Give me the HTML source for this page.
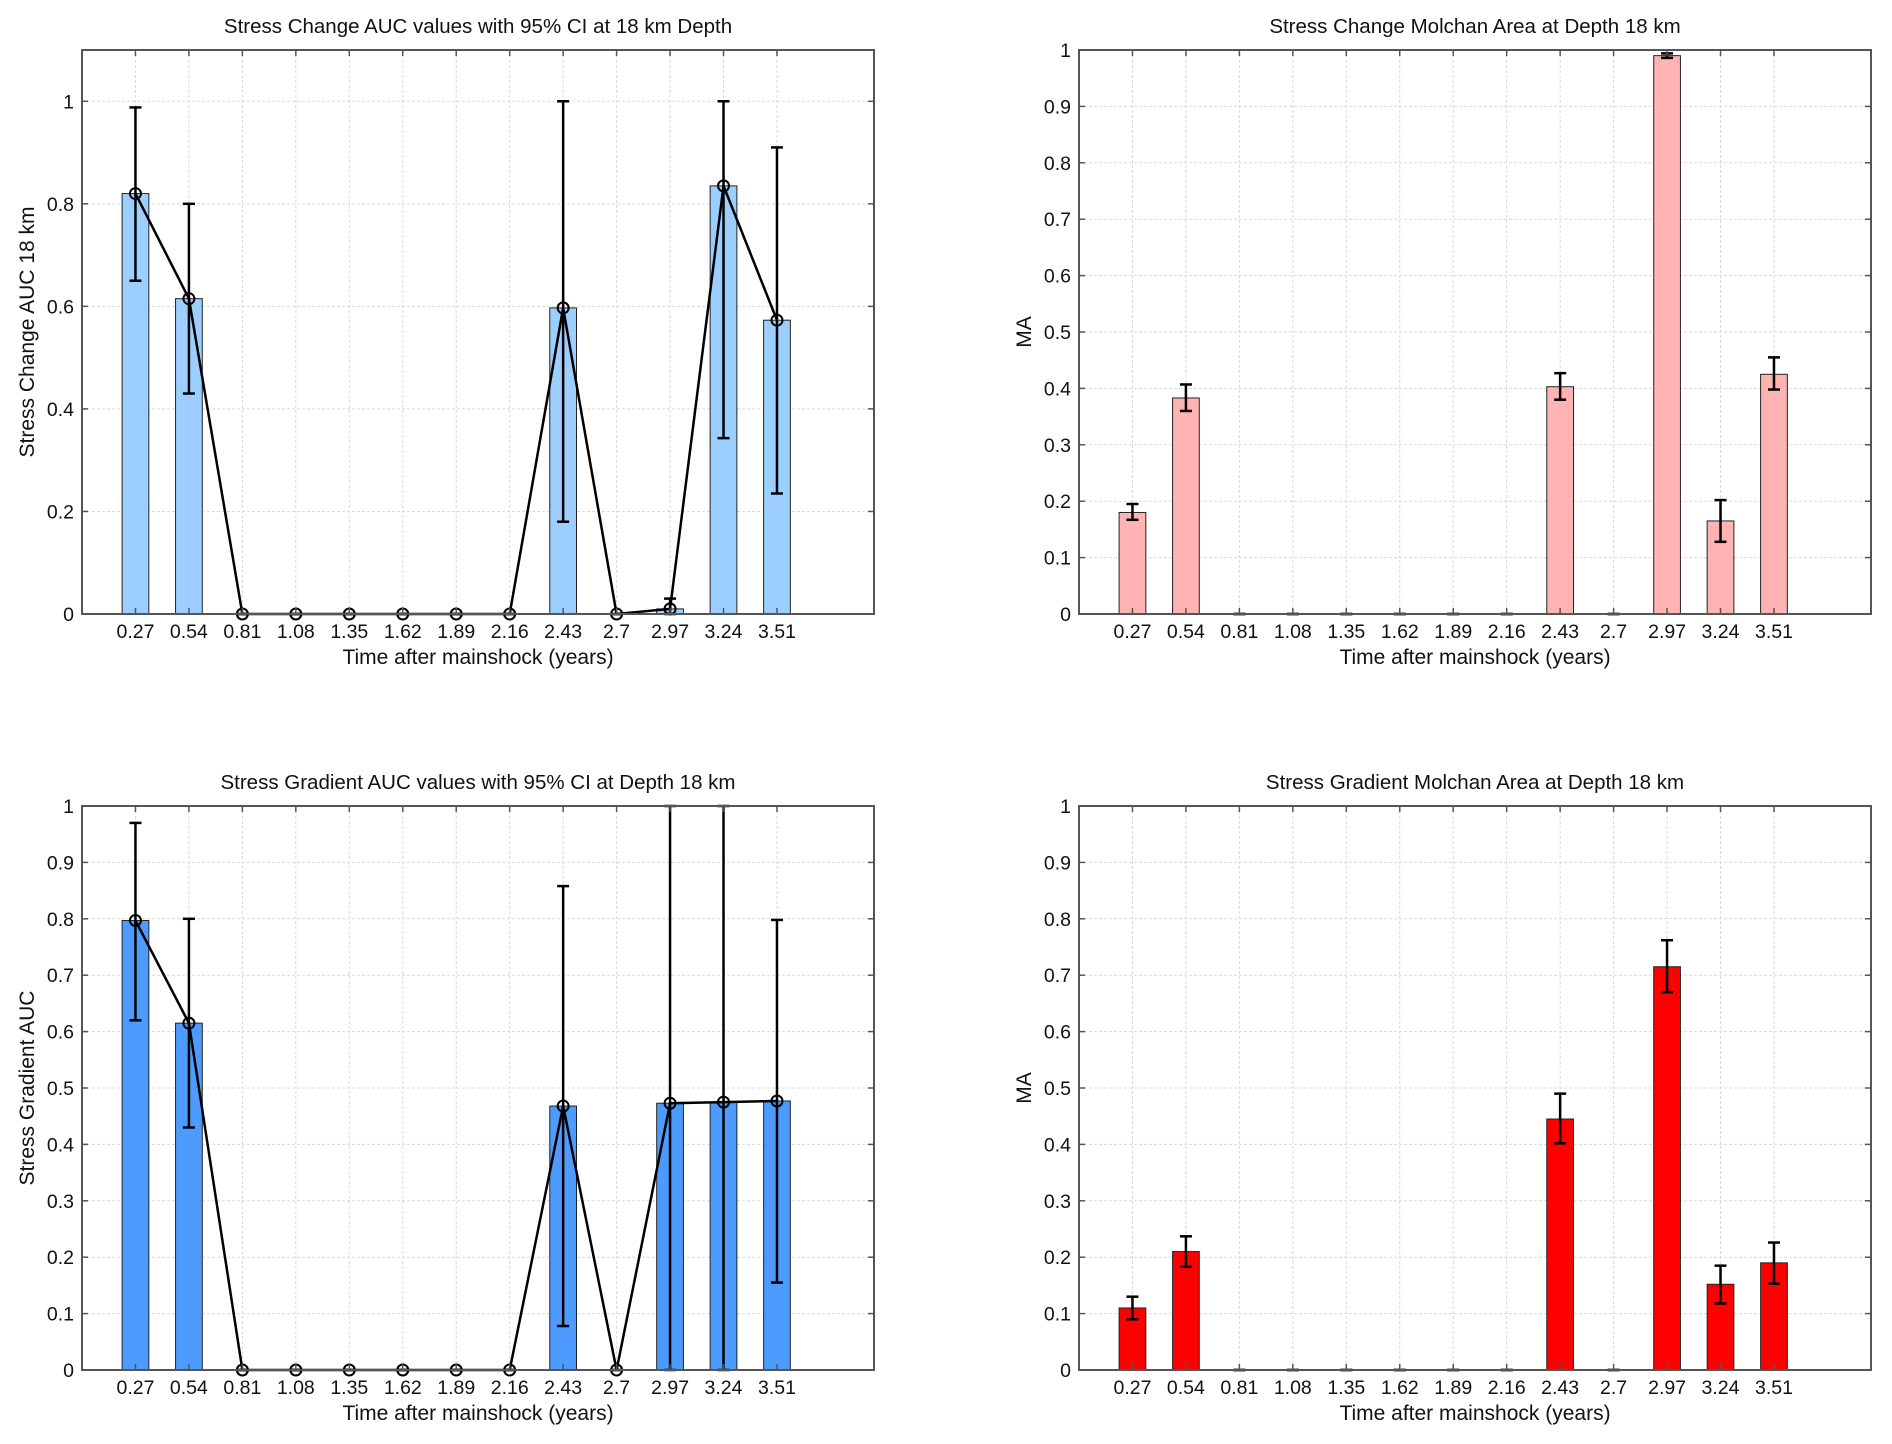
<!DOCTYPE html>
<html><head><meta charset="utf-8"><style>
html,body{margin:0;padding:0;background:#fff;}
svg{display:block;font-family:"Liberation Sans",Arial,sans-serif;}
.t{font-size:19.5px;fill:#111;}
.tt{font-size:20.5px;fill:#111;}
.xl{font-size:21px;fill:#111;}
</style></head><body>
<svg id="s" width="1892" height="1444" viewBox="0 0 1892 1444" xmlns="http://www.w3.org/2000/svg">
<rect width="1892" height="1444" fill="#fff"/>
<g id="c1" transform="translate(82,50)">
<text class="tt" x="396" y="-17" text-anchor="middle">Stress Change AUC values with 95% CI at 18 km Depth</text>
<text class="xl" x="396" y="614" text-anchor="middle">Time after mainshock (years)</text>
<text class="xl" transform="translate(-48,282) rotate(-90)" text-anchor="middle">Stress Change AUC 18 km</text>
<g text-anchor="end" class="t">
<text x="-8" y="571">0</text><text x="-8" y="468.5">0.2</text><text x="-8" y="366">0.4</text><text x="-8" y="263.4">0.6</text><text x="-8" y="160.8">0.8</text><text x="-8" y="58.3">1</text>
</g>
<g text-anchor="middle" class="t">
<text x="53.5" y="588">0.27</text><text x="106.9" y="588">0.54</text><text x="160.4" y="588">0.81</text><text x="213.8" y="588">1.08</text><text x="267.3" y="588">1.35</text><text x="320.8" y="588">1.62</text><text x="374.2" y="588">1.89</text><text x="427.7" y="588">2.16</text><text x="481.1" y="588">2.43</text><text x="534.6" y="588">2.7</text><text x="588.1" y="588">2.97</text><text x="641.5" y="588">3.24</text><text x="695" y="588">3.51</text>
</g>
</g>
<g id="c2" transform="translate(1079,50)">
<text class="tt" x="396" y="-17" text-anchor="middle">Stress Change Molchan Area at Depth 18 km</text>
<text class="xl" x="396" y="614" text-anchor="middle">Time after mainshock (years)</text>
<text class="xl" transform="translate(-48,282) rotate(-90)" text-anchor="middle">MA</text>
<g text-anchor="end" class="t">
<text x="-8" y="571">0</text><text x="-8" y="514.6">0.1</text><text x="-8" y="458.2">0.2</text><text x="-8" y="401.8">0.3</text><text x="-8" y="345.4">0.4</text><text x="-8" y="289">0.5</text><text x="-8" y="232.6">0.6</text><text x="-8" y="176.2">0.7</text><text x="-8" y="119.8">0.8</text><text x="-8" y="63.4">0.9</text><text x="-8" y="7">1</text>
</g>
<g text-anchor="middle" class="t">
<text x="53.5" y="588">0.27</text><text x="106.9" y="588">0.54</text><text x="160.4" y="588">0.81</text><text x="213.8" y="588">1.08</text><text x="267.3" y="588">1.35</text><text x="320.8" y="588">1.62</text><text x="374.2" y="588">1.89</text><text x="427.7" y="588">2.16</text><text x="481.1" y="588">2.43</text><text x="534.6" y="588">2.7</text><text x="588.1" y="588">2.97</text><text x="641.5" y="588">3.24</text><text x="695" y="588">3.51</text>
</g>
</g>
<g id="c3" transform="translate(82,806)">
<text class="tt" x="396" y="-17" text-anchor="middle">Stress Gradient AUC  values with 95% CI at Depth 18 km</text>
<text class="xl" x="396" y="614" text-anchor="middle">Time after mainshock (years)</text>
<text class="xl" transform="translate(-48,282) rotate(-90)" text-anchor="middle">Stress Gradient AUC</text>
<g text-anchor="end" class="t">
<text x="-8" y="571">0</text><text x="-8" y="514.6">0.1</text><text x="-8" y="458.2">0.2</text><text x="-8" y="401.8">0.3</text><text x="-8" y="345.4">0.4</text><text x="-8" y="289">0.5</text><text x="-8" y="232.6">0.6</text><text x="-8" y="176.2">0.7</text><text x="-8" y="119.8">0.8</text><text x="-8" y="63.4">0.9</text><text x="-8" y="7">1</text>
</g>
<g text-anchor="middle" class="t">
<text x="53.5" y="588">0.27</text><text x="106.9" y="588">0.54</text><text x="160.4" y="588">0.81</text><text x="213.8" y="588">1.08</text><text x="267.3" y="588">1.35</text><text x="320.8" y="588">1.62</text><text x="374.2" y="588">1.89</text><text x="427.7" y="588">2.16</text><text x="481.1" y="588">2.43</text><text x="534.6" y="588">2.7</text><text x="588.1" y="588">2.97</text><text x="641.5" y="588">3.24</text><text x="695" y="588">3.51</text>
</g>
</g>
<g id="c4" transform="translate(1079,806)">
<text class="tt" x="396" y="-17" text-anchor="middle">Stress Gradient Molchan Area at Depth 18 km</text>
<text class="xl" x="396" y="614" text-anchor="middle">Time after mainshock (years)</text>
<text class="xl" transform="translate(-48,282) rotate(-90)" text-anchor="middle">MA</text>
<g text-anchor="end" class="t">
<text x="-8" y="571">0</text><text x="-8" y="514.6">0.1</text><text x="-8" y="458.2">0.2</text><text x="-8" y="401.8">0.3</text><text x="-8" y="345.4">0.4</text><text x="-8" y="289">0.5</text><text x="-8" y="232.6">0.6</text><text x="-8" y="176.2">0.7</text><text x="-8" y="119.8">0.8</text><text x="-8" y="63.4">0.9</text><text x="-8" y="7">1</text>
</g>
<g text-anchor="middle" class="t">
<text x="53.5" y="588">0.27</text><text x="106.9" y="588">0.54</text><text x="160.4" y="588">0.81</text><text x="213.8" y="588">1.08</text><text x="267.3" y="588">1.35</text><text x="320.8" y="588">1.62</text><text x="374.2" y="588">1.89</text><text x="427.7" y="588">2.16</text><text x="481.1" y="588">2.43</text><text x="534.6" y="588">2.7</text><text x="588.1" y="588">2.97</text><text x="641.5" y="588">3.24</text><text x="695" y="588">3.51</text>
</g>
</g>
</svg>
<script>
var NS="http://www.w3.org/2000/svg";
function el(p,n,a){var e=document.createElementNS(NS,n);for(var k in a)e.setAttribute(k,a[k]);p.appendChild(e);return e;}
function chart(id,ymax,ystep,vals,lo,hi,color,line){
 var g=document.getElementById(id);var W=792,H=564;
 var sg=document.createElementNS(NS,"g");g.insertBefore(sg,g.firstChild);
 function Y(v){return H-v/ymax*H;}
 var dx=W/4*0.27;
 for(var i=1;i<=13;i++){var x=dx*i;el(sg,"line",{x1:x,x2:x,y1:0,y2:H,stroke:"#dadada","stroke-width":1,"stroke-dasharray":"3,2"});}
 for(var v=ystep;v<=ymax+1e-9;v+=ystep){var y=Y(v);el(sg,"line",{x1:0,x2:W,y1:y,y2:y,stroke:"#dadada","stroke-width":1,"stroke-dasharray":"3,2"});}
 var bw=dx*0.5;
 for(var i=0;i<13;i++){if(vals[i]>0){var x=dx*(i+1);el(sg,"rect",{x:x-bw/2,y:Y(vals[i]),width:bw,height:H-Y(vals[i]),fill:color,stroke:"#222","stroke-width":1});}}
 if(line){var pts=[];for(var i=0;i<13;i++)pts.push((dx*(i+1))+","+Y(vals[i]));el(sg,"polyline",{points:pts.join(" "),fill:"none",stroke:"#000","stroke-width":2.5});}
 for(var i=0;i<13;i++){var x=dx*(i+1);var a=Y(lo[i]),b=Y(hi[i]);
  el(sg,"line",{x1:x,x2:x,y1:a,y2:b,stroke:"#000","stroke-width":2.5});
  el(sg,"line",{x1:x-6,x2:x+6,y1:a,y2:a,stroke:"#000","stroke-width":2.5});
  el(sg,"line",{x1:x-6,x2:x+6,y1:b,y2:b,stroke:"#000","stroke-width":2.5});
  if(line)el(sg,"circle",{cx:x,cy:Y(vals[i]),r:5.5,fill:"none",stroke:"#000","stroke-width":2});}
 for(var i=1;i<=13;i++){var x=dx*i;el(sg,"line",{x1:x,x2:x,y1:H,y2:H-6,stroke:"#555","stroke-width":1.5});el(sg,"line",{x1:x,x2:x,y1:0,y2:6,stroke:"#555","stroke-width":1.5});}
 for(var v=ystep;v<=ymax+1e-9;v+=ystep){var y=Y(v);el(sg,"line",{x1:0,x2:6,y1:y,y2:y,stroke:"#555","stroke-width":1.5});el(sg,"line",{x1:W,x2:W-6,y1:y,y2:y,stroke:"#555","stroke-width":1.5});}
 el(sg,"rect",{x:0,y:0,width:W,height:H,fill:"none",stroke:"#555","stroke-width":2});
}
chart("c1",1.1,0.2,
 [0.82,0.615,0,0,0,0,0,0,0.597,0,0.01,0.835,0.573],
 [0.65,0.43,0,0,0,0,0,0,0.18,0,0,0.343,0.235],
 [0.988,0.80,0,0,0,0,0,0,1.0,0,0.03,1.0,0.91],"#9ccfff",true);
chart("c2",1,0.1,
 [0.18,0.383,0,0,0,0,0,0,0.403,0,0.99,0.165,0.425],
 [0.167,0.36,0,0,0,0,0,0,0.38,0,0.986,0.128,0.398],
 [0.195,0.407,0,0,0,0,0,0,0.427,0,0.994,0.202,0.455],"#ffb3b3",false);
chart("c3",1,0.1,
 [0.797,0.615,0,0,0,0,0,0,0.468,0,0.473,0.475,0.477],
 [0.62,0.43,0,0,0,0,0,0,0.078,0,0,0,0.155],
 [0.97,0.80,0,0,0,0,0,0,0.858,0,1.0,1.0,0.798],"#4d9bff",true);
chart("c4",1,0.1,
 [0.11,0.21,0,0,0,0,0,0,0.445,0,0.715,0.152,0.19],
 [0.09,0.183,0,0,0,0,0,0,0.402,0,0.67,0.118,0.153],
 [0.13,0.237,0,0,0,0,0,0,0.49,0,0.762,0.185,0.226],"#ff0000",false);
</script>
</body></html>
